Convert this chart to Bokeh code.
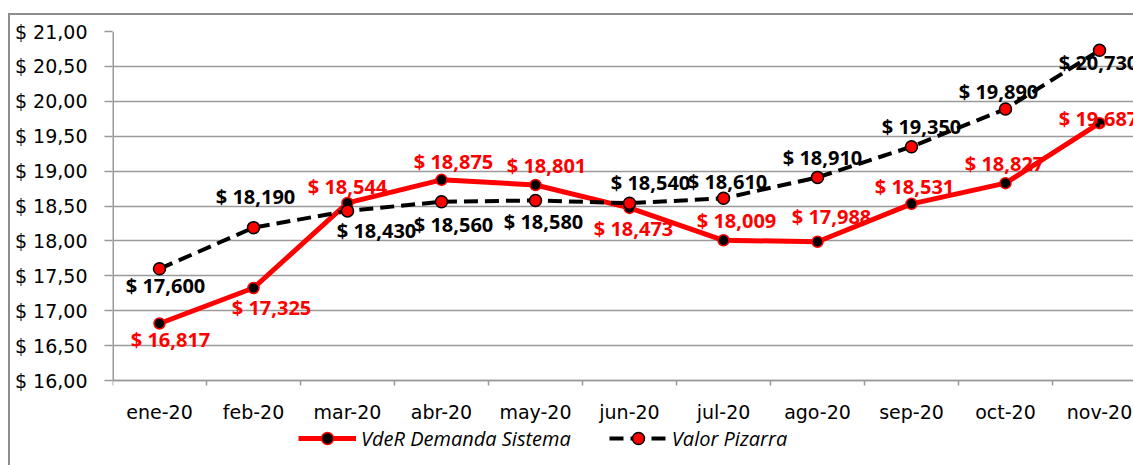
from bokeh.plotting import figure
from bokeh.models import Range1d, FixedTicker, Legend, LegendItem, ColumnDataSource
from bokeh.core.properties import value
from bokeh.embed import file_html
from bokeh.resources import INLINE

# ---- data ----
months = ["ene-20", "feb-20", "mar-20", "abr-20", "may-20", "jun-20",
          "jul-20", "ago-20", "sep-20", "oct-20", "nov-20"]
vder = [16.817, 17.325, 18.544, 18.875, 18.801, 18.473,
        18.009, 17.988, 18.531, 18.827, 19.687]
pizarra = [17.600, 18.190, 18.430, 18.560, 18.580, 18.540,
           18.610, 18.910, 19.350, 19.890, 20.730]
y_ticks = [16.0, 16.5, 17.0, 17.5, 18.0, 18.5, 19.0, 19.5, 20.0, 20.5, 21.0]
series_names = ["VdeR Demanda Sistema", "Valor Pizarra"]

# ---- label placement (screen px offsets, styling only) ----
red_dx = [11, 18, 0, 12, 11, 4, 13, 14, 3, -1, -1]
red_dy = [16, 19, -16, -18, -19, 21, -20, -25, -17, -20, -5]
blk_dx = [6, 2, 29, 12, 8, 21, 4, 5, 10, -7, -1]
blk_dy = [17, -31, 20, 23, 21, -21, -17, -20, -20, -17, 12]

FONT = "Open Sans"
AXFONT = "DejaVu Sans"
GRID = "#9a9a9a"

xs = [i + 0.5 for i in range(len(months))]
y_lo, y_hi = y_ticks[0], y_ticks[-1]
px_per_unit = 349 / (y_hi - y_lo)
frame_h = 434
y_start = y_hi - frame_h / px_per_unit   # room below the axis for the legend


def money(v, nd):
    return "$ " + f"{v:.{nd}f}".replace(".", ",")


p = figure(frame_width=1021, frame_height=frame_h,
           x_range=Range1d(0, 1021 / 94), y_range=Range1d(y_start, y_hi),
           output_backend="svg", toolbar_location=None,
           min_border_left=102, min_border_right=0,
           min_border_top=16, min_border_bottom=0)
p.styles = {"margin-left": "8px", "margin-top": "13px",
            "border-top": "2px solid #8c8c8c",
            "border-left": "2px solid #8c8c8c"}
p.outline_line_color = None
p.background_fill_color = "white"
p.border_fill_color = "white"

# y axis (line drawn only over the value span)
p.yaxis.ticker = FixedTicker(ticks=y_ticks)
p.yaxis.major_label_overrides = {t: money(t, 2) for t in y_ticks}
p.yaxis.major_label_text_font = AXFONT
p.yaxis.major_label_text_font_size = "19px"
p.yaxis.major_label_text_color = "black"
p.yaxis.major_label_standoff = 17
p.yaxis.major_tick_out = 8
p.yaxis.major_tick_in = 0
p.yaxis.minor_tick_line_color = None
p.yaxis.axis_line_color = None
p.yaxis.major_tick_line_color = GRID
p.yaxis.major_tick_line_width = 1.5
p.segment(x0=[0], y0=[y_lo], x1=[0], y1=[y_hi], line_color=GRID, line_width=3)

# x axis fixed at the bottom value
p.xaxis.fixed_location = y_lo
p.xaxis.ticker = FixedTicker(ticks=xs, minor_ticks=list(range(len(months) + 1)))
p.xaxis.major_label_overrides = {x: m for x, m in zip(xs, months)}
p.xaxis.major_label_text_font = AXFONT
p.xaxis.major_label_text_font_size = "19px"
p.xaxis.major_label_text_color = "black"
p.xaxis.major_label_standoff = 15
p.xaxis.major_tick_out = 0
p.xaxis.major_tick_in = 0
p.xaxis.minor_tick_out = 5
p.xaxis.minor_tick_in = 0
p.xaxis.minor_tick_line_color = GRID
p.xaxis.minor_tick_line_width = 1.5
p.xaxis.axis_line_color = GRID
p.xaxis.axis_line_width = 1.5

p.xgrid.visible = False
p.ygrid.grid_line_color = GRID
p.ygrid.grid_line_width = 1.5

# series
r_line = p.line(xs, vder, line_color="#ff0000", line_width=5)
r_pts = p.scatter(xs, vder, size=11, fill_color="black",
                  line_color="#ff0000", line_width=1.5)
b_line = p.line(xs, pizarra, line_color="black", line_width=4,
                line_dash="14 7")
b_pts = p.scatter(xs, pizarra, size=12, fill_color="#ff0000",
                  line_color="black", line_width=1.5)

# data labels
red_src = ColumnDataSource(dict(x=xs, y=vder, t=[money(v, 3) for v in vder],
                                dx=red_dx, dy=red_dy))
blk_src = ColumnDataSource(dict(x=xs, y=pizarra, t=[money(v, 3) for v in pizarra],
                                dx=blk_dx, dy=blk_dy))
p.text(x="x", y="y", text="t", x_offset="dx", y_offset="dy", source=red_src,
       text_font=value(FONT), text_font_style="bold", text_font_size="20px",
       text_color="#ff0000", text_align="center", text_baseline="middle")
p.text(x="x", y="y", text="t", x_offset="dx", y_offset="dy", source=blk_src,
       text_font=value(FONT), text_font_style="bold", text_font_size="20px",
       text_color="black", text_align="center", text_baseline="middle")

legend = Legend(items=[LegendItem(label=series_names[0], renderers=[r_line, r_pts]),
                       LegendItem(label=series_names[1], renderers=[b_line, b_pts])],
                location=(186, 12), orientation="horizontal",
                margin=0, padding=0, spacing=38, label_standoff=5,
                glyph_width=58, glyph_height=30,
                label_text_font=FONT, label_text_font_style="italic",
                label_text_font_size="20px", label_text_color="black",
                border_line_color=None, background_fill_alpha=0)
p.add_layout(legend)

open("out.html", "w").write(file_html(p, INLINE))
